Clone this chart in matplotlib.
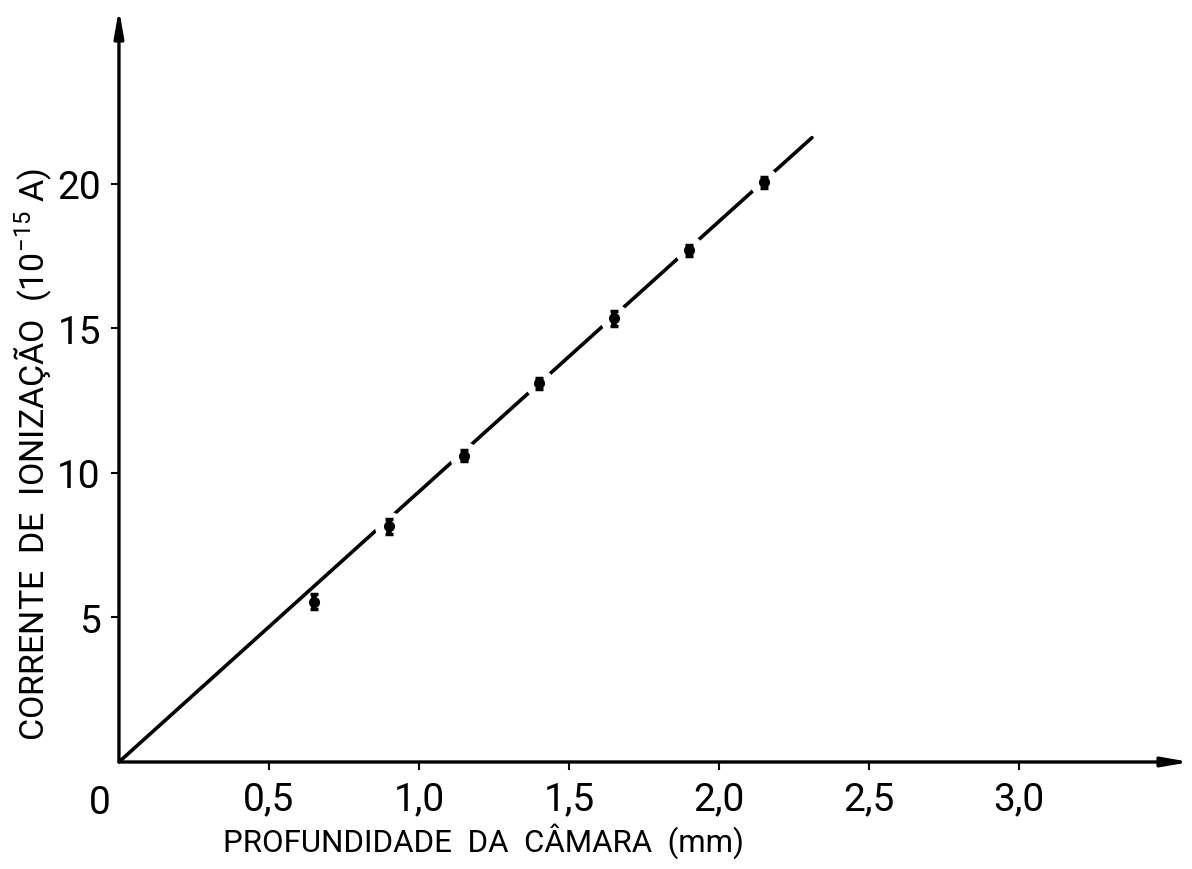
import matplotlib
matplotlib.use("Agg")
import matplotlib.pyplot as plt

# depth of the chamber (mm) and ionization current (1e-15 A)
depth = [0.65, 0.90, 1.15, 1.40, 1.65, 1.90, 2.15]
current = [5.55, 8.15, 10.6, 13.1, 15.35, 17.7, 20.05]
current_err = [0.25, 0.25, 0.2, 0.2, 0.25, 0.2, 0.2]

# fitted straight line, drawn from the origin
fit_x = [0.0, 2.31]
fit_y = [0.0, 21.6]

x_ticks = [0.5, 1.0, 1.5, 2.0, 2.5, 3.0]
x_tick_labels = ["0,5", "1,0", "1,5", "2,0", "2,5", "3,0"]
y_ticks = [5, 10, 15, 20]
y_tick_labels = ["5", "10", "15", "20"]

FONT = ["Roboto", "DejaVu Sans"]
plt.rcParams['font.family'] = FONT
plt.rcParams['mathtext.default'] = 'regular'

fig = plt.figure(figsize=(11.92, 8.7), dpi=100)
ax = fig.add_axes([0.0998, 0.123, 0.8985, 0.8655])
ax.set_xlim(0, 3.57)
ax.set_ylim(0, 26.05)

for s in ax.spines.values():
    s.set_visible(False)

# axes with arrow heads
arrow = dict(arrowstyle="-|>,head_length=1.6,head_width=0.28", lw=2.4, color="black",
             shrinkA=0, shrinkB=0)
ax.annotate("", xy=(1, 0), xytext=(0, 0), xycoords="axes fraction",
            textcoords="axes fraction", arrowprops=arrow, annotation_clip=False)
ax.annotate("", xy=(0, 1), xytext=(0, 0), xycoords="axes fraction",
            textcoords="axes fraction", arrowprops=arrow, annotation_clip=False)

ax.plot(fit_x, fit_y, color="black", lw=2.6, zorder=2, solid_capstyle="round")
# white halos so the line looks broken around each point
ax.plot(depth[1:], current[1:], "o", ms=21, color="white", mec="none", zorder=3)
ax.errorbar(depth, current, yerr=current_err, fmt="o", ms=7, color="black",
            ecolor="black", elinewidth=4, capsize=3, capthick=2.5, zorder=4)

ax.set_xticks(x_ticks)
ax.set_xticklabels(x_tick_labels)
ax.set_yticks(y_ticks)
ax.set_yticklabels(y_tick_labels)
ax.tick_params(axis="both", direction="out", length=6, width=1.5, labelsize=28, pad=7)

ax.text(-0.065, -0.75, "0", fontsize=28, ha="center", va="top")

ax.set_xlabel("PROFUNDIDADE  DA  CÂMARA  (mm)", fontsize=22.5, labelpad=4, x=0.34)
ax.set_ylabel("CORRENTE  DE  IONIZAÇÃO  (10$^{-15}$ A)", fontsize=24.5, labelpad=2, y=0.41)

fig.savefig("out.png", dpi=100, facecolor="white")
